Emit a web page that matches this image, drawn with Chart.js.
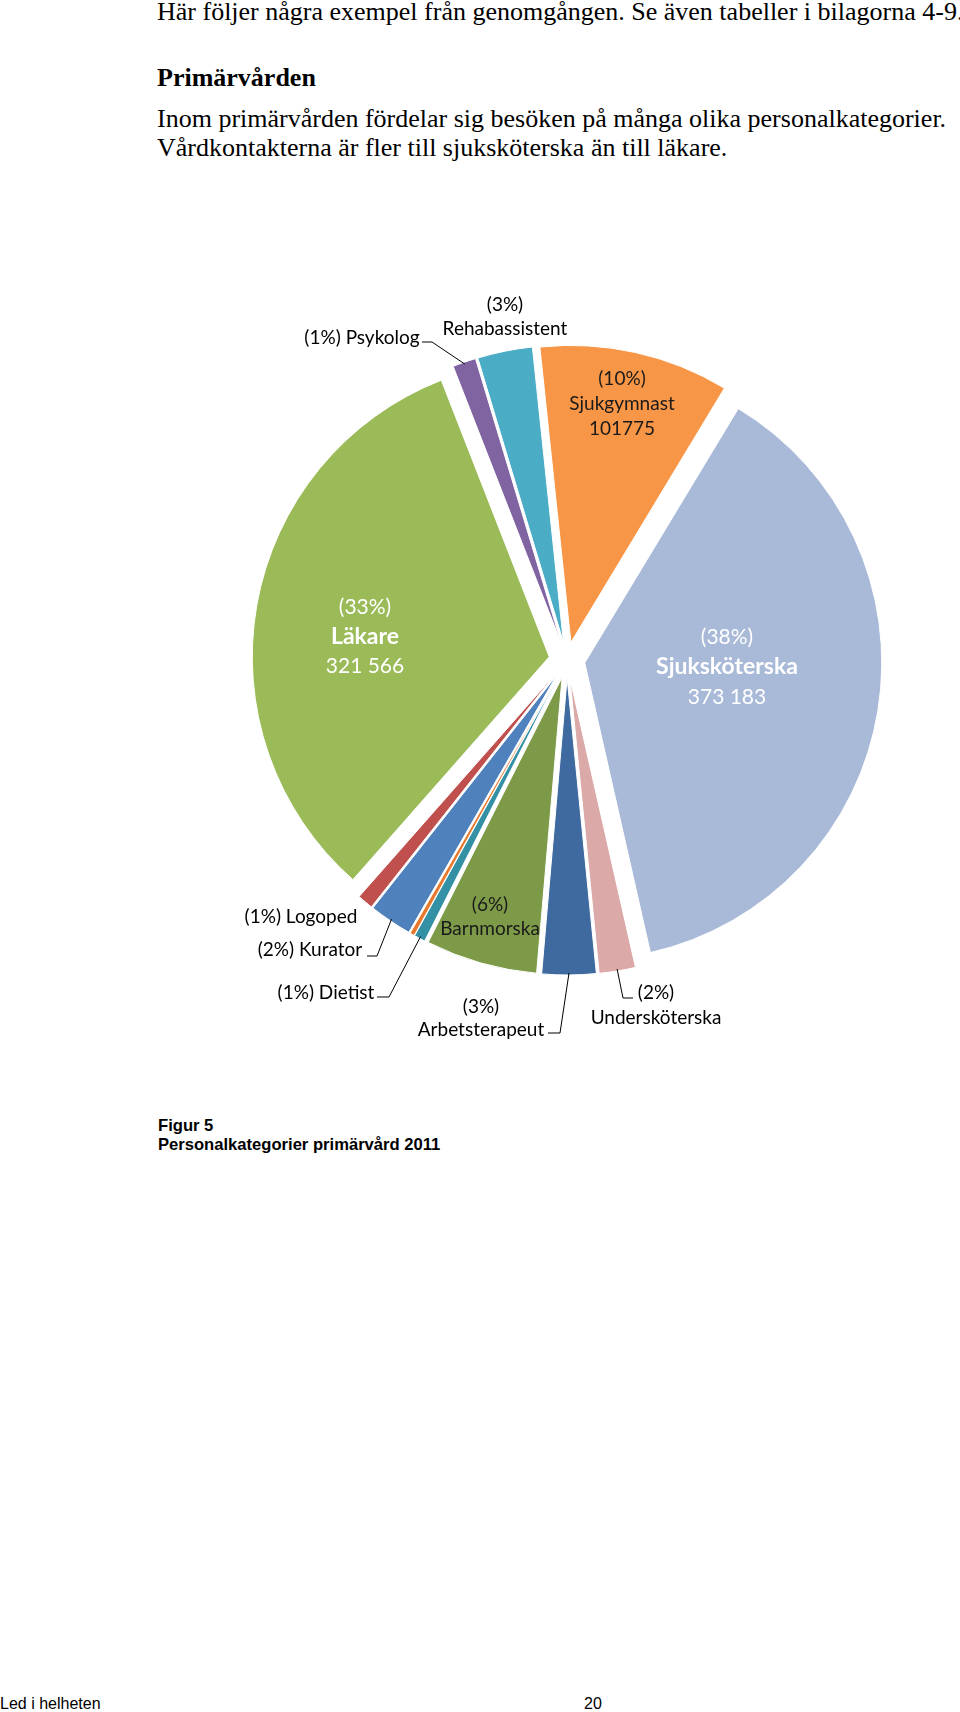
<!DOCTYPE html>
<html lang="sv">
<head>
<meta charset="utf-8">
<script src="https://cdn.jsdelivr.net/npm/chart.js@4.4.0/dist/chart.umd.min.js"></script>
<style>
  html, body { margin: 0; padding: 0; background: #fff; }
  body { width: 960px; height: 1712px; position: relative; overflow: hidden; }
  .t { position: absolute; left: 157px; font-family: "Liberation Serif", "Times New Roman", serif; font-size: 26px; line-height: 30px; white-space: nowrap; color: #000; }
  .cap { position: absolute; left: 158px; font-family: "Liberation Sans", Arial, sans-serif; font-weight: bold; font-size: 16.6px; line-height: 19px; white-space: nowrap; }
  .foot { position: absolute; font-family: "Liberation Sans", Arial, sans-serif; font-size: 16px; line-height: 18px; white-space: nowrap; }
  #pie { position: absolute; left: 0; top: 240px; }
</style>
</head>
<body>
<div class="t" style="top:-3px">Här följer några exempel från genomgången. Se även tabeller i bilagorna 4-9.</div>
<div class="t" style="top:63px;font-weight:bold">Primärvården</div>
<div class="t" style="top:104px">Inom primärvården fördelar sig besöken på många olika personalkategorier.</div>
<div class="t" style="top:133px">Vårdkontakterna är fler till sjuksköterska än till läkare.</div>

<canvas id="pie" width="960" height="840"></canvas>

<div class="cap" style="top:1116px">Figur 5<br>Personalkategorier primärvård 2011</div>
<div class="foot" style="left:0;top:1695px">Led i helheten</div>
<div class="foot" style="left:584px;top:1695px">20</div>

<script>
// besök per personalkategori, primärvård 2011
var categories = ['Sjukgymnast', 'Sjuksköterska', 'Undersköterska', 'Arbetsterapeut', 'Barnmorska',
  'Dietist', 'Övriga', 'Kurator', 'Logoped', 'Läkare', 'Psykolog', 'Rehabassistent'];
var visits = [101775, 373183, 19500, 29000, 60000, 6000, 2500, 23000, 8500, 321566, 12500, 29500];
var colors = ['#F79646', '#A9B9D8', '#DCA9A9', '#3E6A9F', '#7D9A48',
  '#3390A5', '#E8782D', '#4F81BD', '#C0504D', '#9BBB59', '#8064A2', '#4BACC6'];

var total = visits.reduce(function (a, b) { return a + b; }, 0);

var RADIUS = 297;
var EXPLODE = 18;   // px each slice is pulled out

// label placement, offsets from the pie centre
var labelSpots = [
  { i: 0, rows: ['pct', 'name', 'num'], x: 55, y: [-281, -256, -231], color: '#1a1a1a' },
  { i: 1, rows: ['pct', 'name', 'num'], x: 160, y: [-23, 7, 37], color: '#fff', big: true, group: true },
  { i: 9, rows: ['pct', 'name', 'num'], x: -202, y: [-53, -23, 6], color: '#fff', big: true, group: true },
  { i: 4, rows: ['pct', 'name'], x: -77, y: [245, 269], color: '#1a1a1a' },
  { i: 11, rows: ['pct', 'name'], x: -62, y: [-355, -331] },
  { i: 10, rows: ['both'], x: -205, y: [-322], leader: [[-135, -318], [-145, -318]] },
  { i: 8, rows: ['both'], x: -266, y: [257] },
  { i: 7, rows: ['both'], x: -257, y: [290], leader: [[-190, 296], [-200, 296]] },
  { i: 5, rows: ['both'], x: -241, y: [333], leader: [[-178, 337], [-190, 337]] },
  { i: 3, rows: ['pct', 'name'], x: -86, y: [347, 370], leader: [[-7, 373], [-19, 373]] },
  { i: 2, rows: ['pct', 'name'], x: 89, y: [333, 358], leader: [[56, 338], [66, 338]] }
];

function fmt(v, group) {
  var s = String(v);
  return group ? s.replace(/\B(?=(\d{3})+(?!\d))/g, ' ') : s;
}

function pieCentre(chart) {
  var a = chart.chartArea;
  return { x: (a.left + a.right) / 2, y: (a.top + a.bottom) / 2 };
}

var sliceLabels = {
  id: 'sliceLabels',
  afterDatasetUpdate: function (chart) {
    // explode: move each slice out along its middle angle, same radius for all
    var c = pieCentre(chart);
    chart.getDatasetMeta(0).data.forEach(function (arc) {
      var mid = (arc.startAngle + arc.endAngle) / 2;
      arc.x = c.x + Math.cos(mid) * EXPLODE;
      arc.y = c.y + Math.sin(mid) * EXPLODE;
    });
  },
  afterDatasetsDraw: function (chart) {
    var ctx = chart.ctx;
    var arcs = chart.getDatasetMeta(0).data;
    var c = pieCentre(chart);
    ctx.save();
    labelSpots.forEach(function (s) {
      var v = visits[s.i];
      var pct = '(' + Math.round(v / total * 100) + '%)';
      ctx.fillStyle = s.color || '#000';
      ctx.textAlign = 'center';
      ctx.textBaseline = 'middle';
      s.rows.forEach(function (r, k) {
        var txt = r === 'pct' ? pct : r === 'name' ? categories[s.i] : r === 'num' ? fmt(v, s.group) : pct + ' ' + categories[s.i];
        var bold = s.big && r === 'name';
        var size = bold ? 23 : (s.big ? 21 : 19);
        ctx.font = (bold ? 'bold ' : '') + size + 'px Lato, "Open Sans", sans-serif';
        ctx.fillText(txt, c.x + s.x, c.y + s.y[k]);
      });
      if (s.leader) {
        var a = arcs[s.i];
        var mid = (a.startAngle + a.endAngle) / 2;
        var rr = a.outerRadius - 2;
        ctx.beginPath();
        ctx.moveTo(a.x + Math.cos(mid) * rr, a.y + Math.sin(mid) * rr);
        s.leader.forEach(function (p) { ctx.lineTo(c.x + p[0], c.y + p[1]); });
        ctx.strokeStyle = '#000';
        ctx.lineWidth = 1;
        ctx.stroke();
      }
    });
    ctx.restore();
  }
};

new Chart(document.getElementById('pie').getContext('2d'), {
  type: 'pie',
  data: {
    labels: categories,
    datasets: [{
      data: visits,
      backgroundColor: colors,
      borderColor: '#fff',
      borderWidth: 1
    }]
  },
  options: {
    responsive: false,
    devicePixelRatio: 1,
    animation: false,
    rotation: -6,
    radius: RADIUS,
    layout: { padding: { left: 174 } },
    plugins: {
      legend: { display: false },
      tooltip: { enabled: false }
    }
  },
  plugins: [sliceLabels]
});
</script>
</body>
</html>
